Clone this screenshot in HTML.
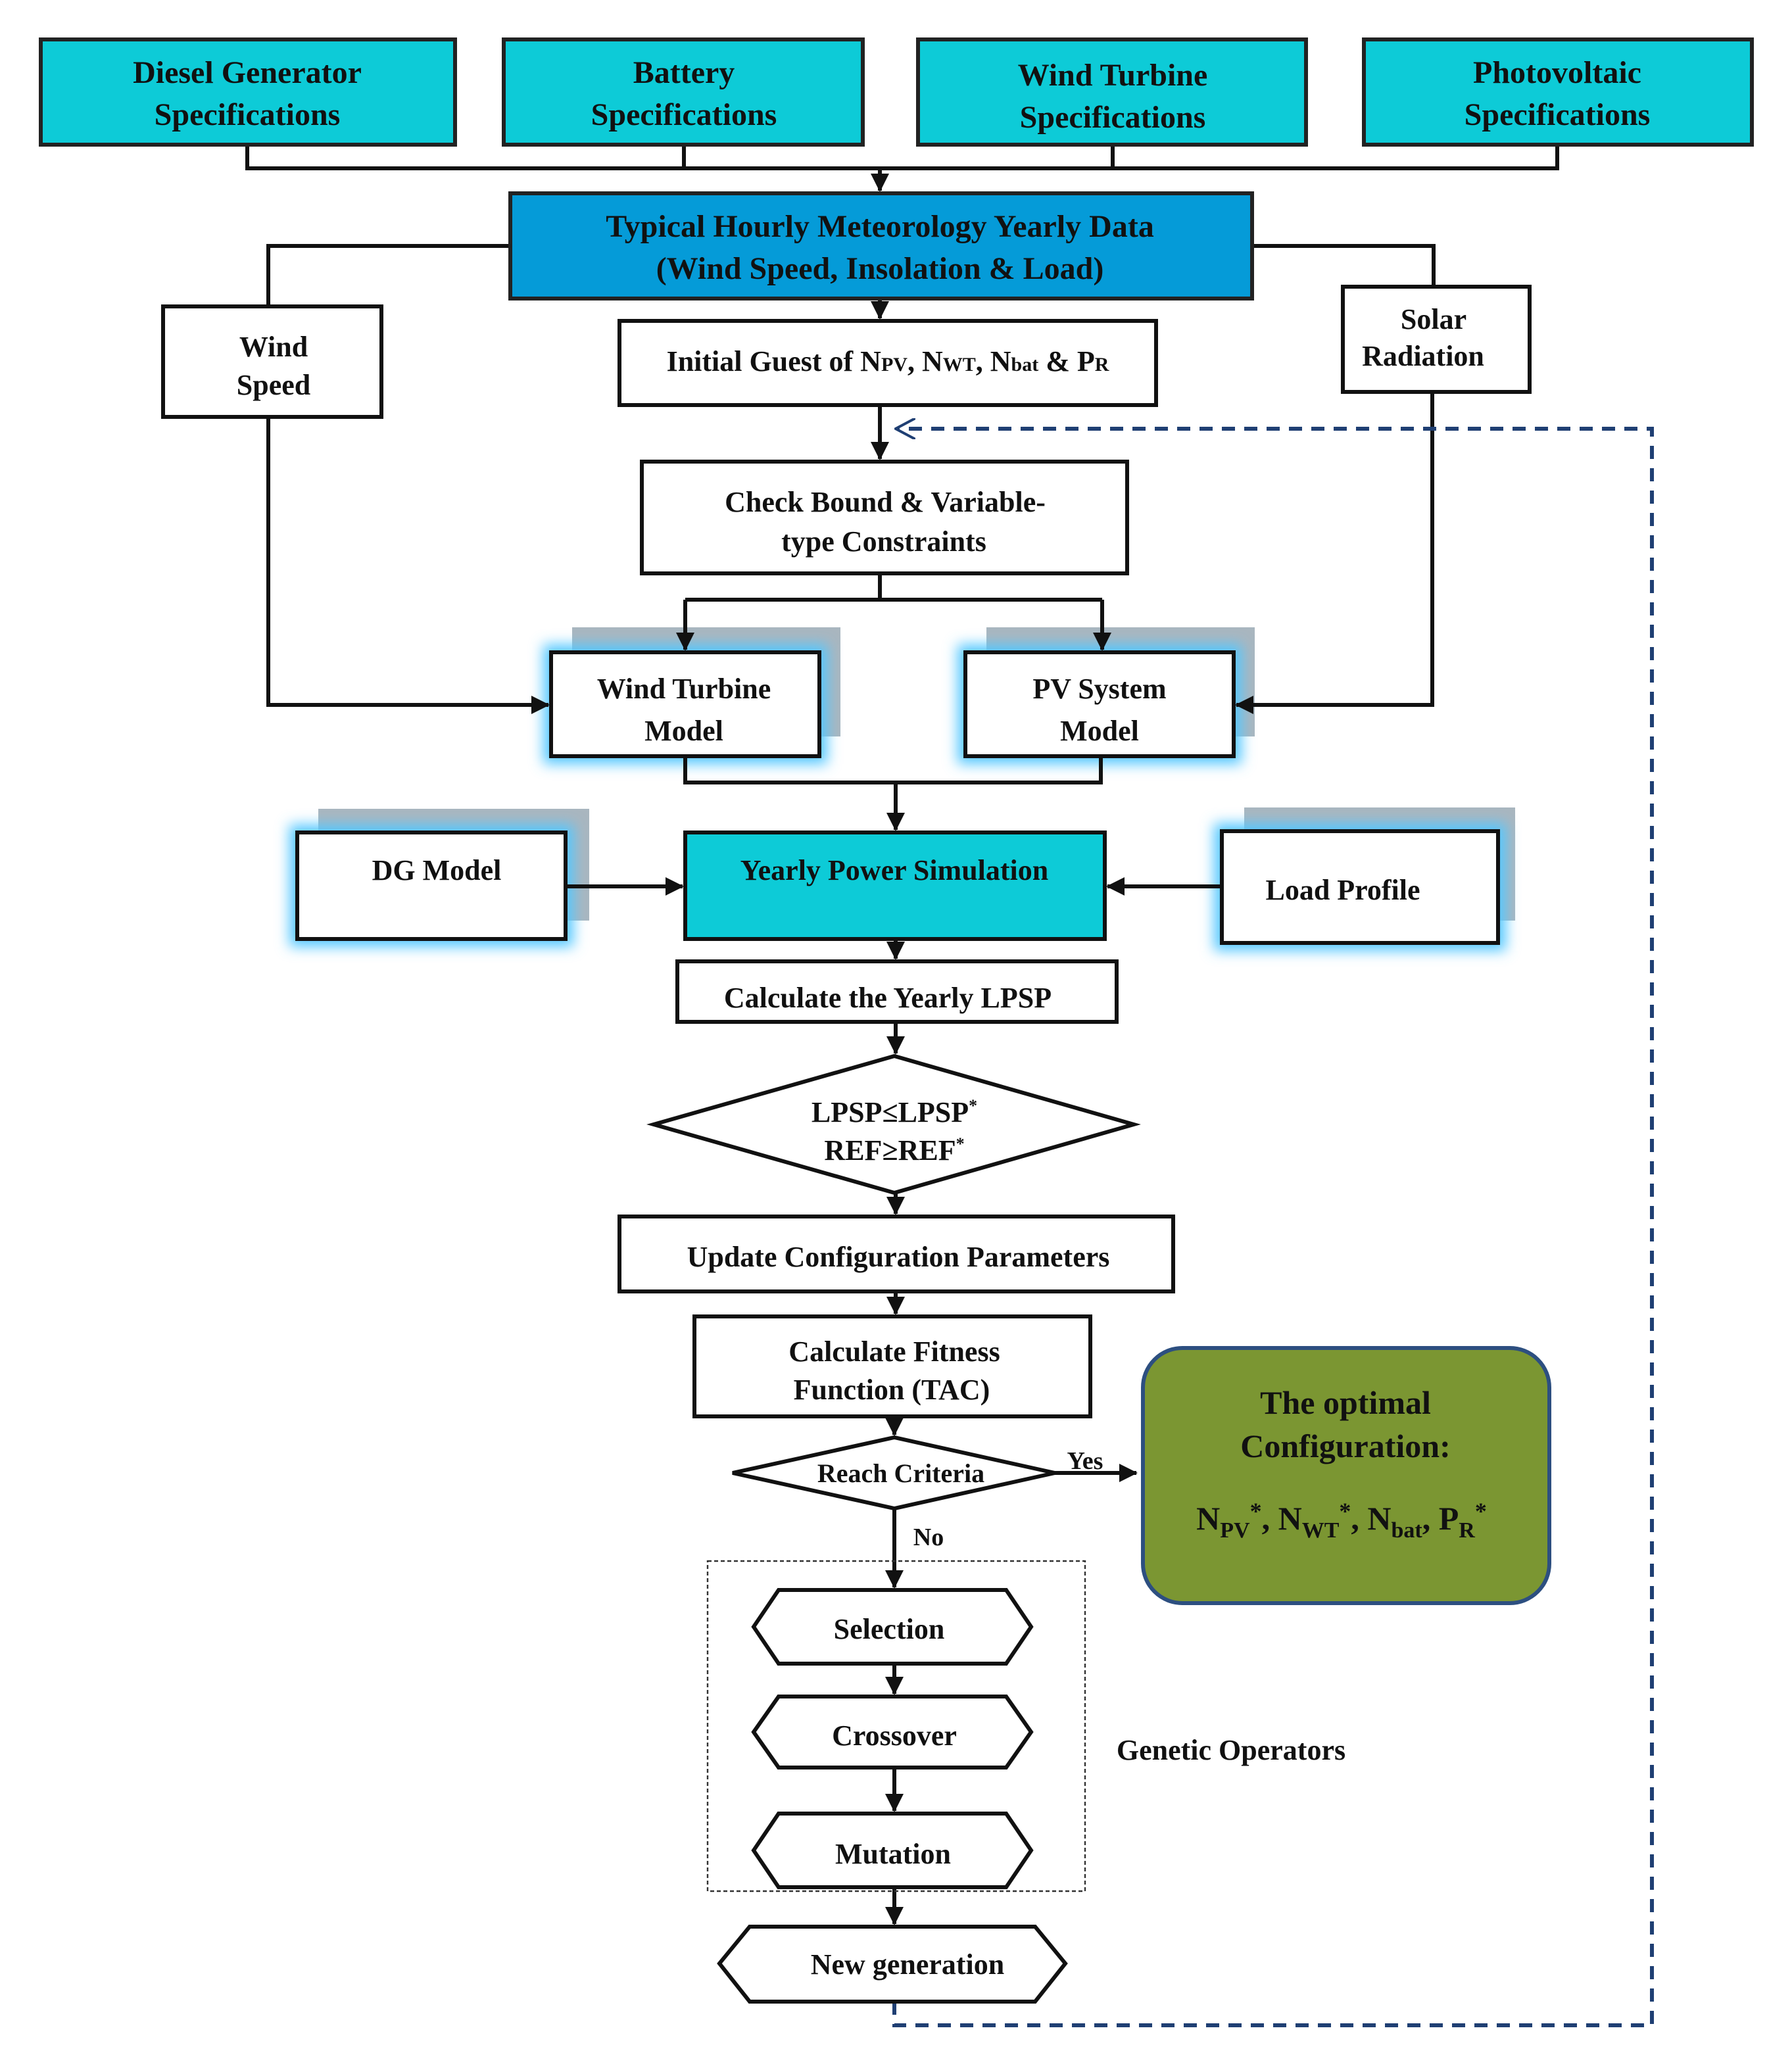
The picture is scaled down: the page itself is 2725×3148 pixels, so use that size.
<!DOCTYPE html>
<html><head><meta charset="utf-8"><style>
html,body{margin:0;padding:0;background:#fff;}
svg{display:block;}
text{font-family:"Liberation Serif",serif;font-weight:bold;fill:#111;}
</style></head><body>
<svg width="2725" height="3148" viewBox="0 0 1362.5 1574" xmlns="http://www.w3.org/2000/svg">
<defs>
<marker id="a" markerWidth="14" markerHeight="14" refX="13" refY="7" orient="auto" markerUnits="userSpaceOnUse"><path d="M0,0 L14,7 L0,14 z" fill="#111"/></marker>
<marker id="b" markerWidth="16" markerHeight="16" refX="14" refY="8" orient="auto" markerUnits="userSpaceOnUse"><path d="M0,0 L15,8 L0,16" fill="none" stroke="#1f3f73" stroke-width="2"/></marker>
<filter id="g" x="-20%" y="-30%" width="140%" height="160%"><feGaussianBlur stdDeviation="5"/></filter>
</defs>
<!-- shadows & glows -->
<g fill="#a9b6bf">
<rect x="435" y="477" width="204" height="83"/><rect x="750" y="477" width="204" height="83"/>
<rect x="242" y="615" width="206" height="85"/><rect x="946" y="614" width="206" height="86"/>
</g>
<g fill="#54c8ff" filter="url(#g)">
<rect x="413" y="490" width="216" height="91"/><rect x="728" y="490" width="216" height="91"/>
<rect x="220" y="627" width="216" height="93"/><rect x="923" y="626" width="222" height="97"/>
</g>
<g stroke="#111" stroke-width="3" fill="none">
<path d="M188 110V128H1184V110M520 110V128M846 110V128"/>
<path d="M669 128V145" marker-end="url(#a)"/>
<path d="M388 187H204V233M952 187H1090V218"/>
<path d="M669 227V242" marker-end="url(#a)"/>
<path d="M669 308V349" marker-end="url(#a)"/>
<path d="M669 436V456M521 456H838"/>
<path d="M521 456V494" marker-end="url(#a)"/><path d="M838 456V494" marker-end="url(#a)"/>
<path d="M204 317V536H417" marker-end="url(#a)"/>
<path d="M1089 298V536H940" marker-end="url(#a)"/>
<path d="M521 575V595H837V575"/>
<path d="M681 595V631" marker-end="url(#a)"/>
<path d="M430 674H519" marker-end="url(#a)"/>
<path d="M929 674H842" marker-end="url(#a)"/>
<path d="M681 714V729" marker-end="url(#a)"/>
<path d="M681 777V801" marker-end="url(#a)"/>
<path d="M681 907V923" marker-end="url(#a)"/>
<path d="M681 982V999" marker-end="url(#a)"/>
<path d="M680 1077V1091" marker-end="url(#a)"/>
<path d="M802 1120H864" marker-end="url(#a)"/>
<path d="M680 1147V1207" marker-end="url(#a)"/>
<path d="M680 1265V1288" marker-end="url(#a)"/>
<path d="M680 1344V1377" marker-end="url(#a)"/>
<path d="M680 1435V1463" marker-end="url(#a)"/>
</g>
<path d="M680 1522V1540H1256V326H682" fill="none" stroke="#1f3f73" stroke-width="3" stroke-dasharray="10,7" marker-end="url(#b)"/>
<g stroke="#222" stroke-width="3" fill="#0dcbd7">
<rect x="31" y="30" width="315" height="80"/>
<rect x="383" y="30" width="273" height="80"/>
<rect x="698" y="30" width="295" height="80"/>
<rect x="1037" y="30" width="295" height="80"/>
<rect x="388" y="147" width="564" height="80" fill="#059bd8"/>
</g>
<g stroke="#111" stroke-width="3" fill="#fff">
<rect x="124" y="233" width="166" height="84"/>
<rect x="1021" y="218" width="142" height="80"/>
<rect x="471" y="244" width="408" height="64"/>
<rect x="488" y="351" width="369" height="85"/>
<rect x="419" y="496" width="204" height="79"/>
<rect x="734" y="496" width="204" height="79"/>
<rect x="226" y="633" width="204" height="81"/>
<rect x="521" y="633" width="319" height="81" fill="#0dcbd7"/>
<rect x="929" y="632" width="210" height="85"/>
<rect x="515" y="731" width="334" height="46"/>
<path d="M497 855L680 803L862 855L680 907z"/>
<rect x="471" y="925" width="421" height="57"/>
<rect x="528" y="1001" width="301" height="76"/>
<path d="M557 1120L680 1093L802 1120L680 1147z"/>
<path d="M573 1237L592 1209H765L784 1237L765 1265H592z"/>
<path d="M573 1317L592 1290H765L784 1317L765 1344H592z"/>
<path d="M573 1407L592 1379H765L784 1407L765 1435H592z"/>
<path d="M547 1493L570 1465H787L810 1493L787 1522H570z"/>
</g>
<rect x="538" y="1187" width="287" height="251" fill="none" stroke="#333" stroke-width="1.2" stroke-dasharray="3,2"/>
<rect x="869" y="1025" width="309" height="194" rx="30" fill="#7b9632" stroke="#2d4f80" stroke-width="3"/>
<g font-size="24" text-anchor="middle">
<text x="188" y="63">Diesel Generator</text><text x="188" y="95">Specifications</text>
<text x="520" y="63">Battery</text><text x="520" y="95">Specifications</text>
<text x="846" y="65">Wind Turbine</text><text x="846" y="97">Specifications</text>
<text x="1184" y="63">Photovoltaic</text><text x="1184" y="95">Specifications</text>
<text x="669" y="180">Typical Hourly Meteorology Yearly Data</text>
<text x="669" y="212">(Wind Speed, Insolation &amp; Load)</text>
</g>
<g font-size="22" text-anchor="middle">
<text x="208" y="271">Wind</text><text x="208" y="300">Speed</text>
<text x="1090" y="250">Solar</text><text x="1082" y="278">Radiation</text>
<text x="675" y="282">Initial Guest of N<tspan font-size="15">PV</tspan>, N<tspan font-size="15">WT</tspan>, N<tspan font-size="15">bat</tspan> &amp; P<tspan font-size="15">R</tspan></text>
<text x="673" y="389">Check Bound &amp; Variable-</text><text x="672" y="419">type Constraints</text>
<text x="520" y="531">Wind Turbine</text><text x="520" y="563">Model</text>
<text x="836" y="531">PV System</text><text x="836" y="563">Model</text>
<text x="332" y="669">DG Model</text>
<text x="680" y="669">Yearly Power Simulation</text>
<text x="1021" y="684">Load Profile</text>
<text x="675" y="766">Calculate the Yearly LPSP</text>
<text x="680" y="853">LPSP≤LPSP<tspan font-size="13" dy="-8">*</tspan></text>
<text x="680" y="882">REF≥REF<tspan font-size="13" dy="-8">*</tspan></text>
<text x="683" y="963">Update Configuration Parameters</text>
<text x="680" y="1035">Calculate Fitness</text><text x="678" y="1064">Function (TAC)</text>
<text x="685" y="1127" font-size="20">Reach Criteria</text>
<text x="825" y="1117" font-size="19">Yes</text>
<text x="706" y="1175" font-size="19">No</text>
<text x="676" y="1246">Selection</text>
<text x="680" y="1327">Crossover</text>
<text x="679" y="1417">Mutation</text>
<text x="690" y="1501">New generation</text>
<text x="936" y="1338">Genetic Operators</text>
<text x="1023" y="1075" font-size="25">The optimal</text>
<text x="1023" y="1108" font-size="25">Configuration:</text>
<text x="1020" y="1163" font-size="25">N<tspan font-size="17" dy="6">PV</tspan><tspan dy="-14" font-size="18">*</tspan><tspan dy="8">, N</tspan><tspan font-size="17" dy="6">WT</tspan><tspan dy="-14" font-size="18">*</tspan><tspan dy="8">, N</tspan><tspan font-size="17" dy="6">bat</tspan><tspan dy="-6">, P</tspan><tspan font-size="17" dy="6">R</tspan><tspan dy="-14" font-size="18">*</tspan></text>
</g>
</svg>
</body></html>
